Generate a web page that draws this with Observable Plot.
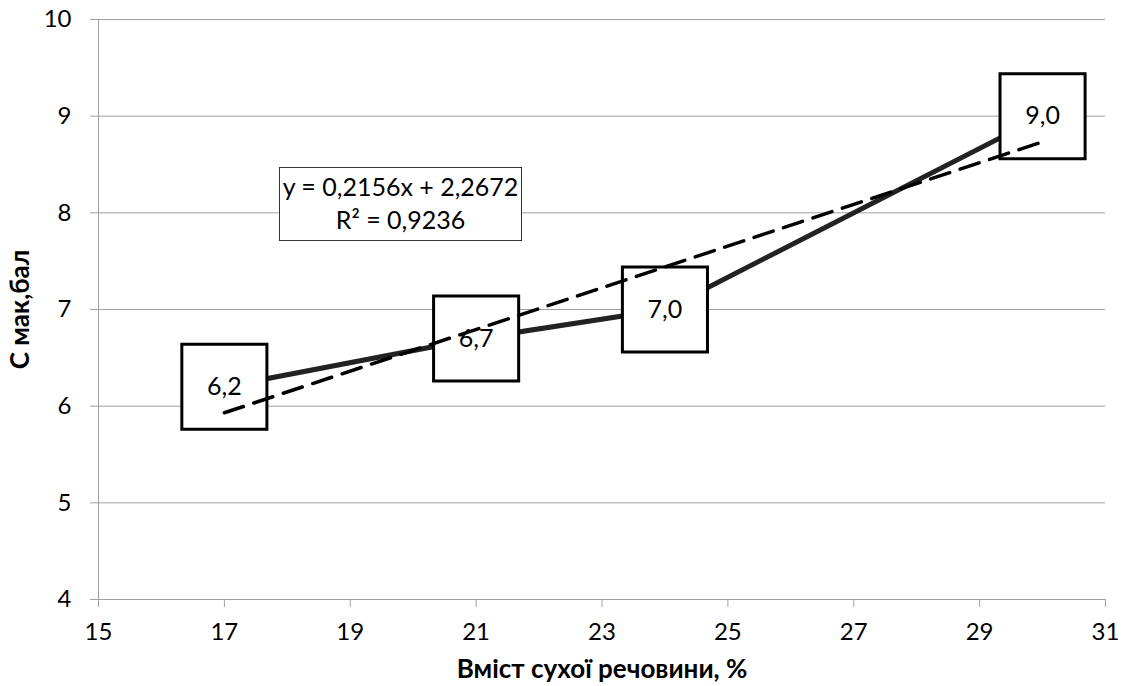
<!DOCTYPE html>
<html>
<head>
<meta charset="utf-8">
<script src="https://cdn.jsdelivr.net/npm/d3@7"></script>
<script src="https://cdn.jsdelivr.net/npm/@observablehq/plot@0.6"></script>
<style>
  body { margin: 0; background: white; }
  #wrap { position: relative; width: 1123px; height: 686px; font-family: Lato, "Open Sans", sans-serif; }
  #eq { position: absolute; left: 279px; top: 167px; width: 241px; height: 70px; border: 1px solid #333;
        background: white; font-size: 25px; text-align: center; line-height: 33px; padding-top: 2px; color: #000; }
</style>
</head>
<body>
<div id="wrap"><div id="eq">y = 0,2156x + 2,2672<br>R² = 0,9236</div></div>
<script>
const drySubstance = [17, 21, 24, 30];
const cMax = [6.2, 6.7, 7.0, 9.0];
const pointLabels = ["6,2", "6,7", "7,0", "9,0"];
const xTicks = [15, 17, 19, 21, 23, 25, 27, 29, 31];
const yTicks = [4, 5, 6, 7, 8, 9, 10];
const xTitle = "Вміст сухої речовини, %";
const yTitle = "С мак,бал";

const data = drySubstance.map((x, i) => ({x, y: cMax[i], label: pointLabels[i]}));
const gray = "#a0a0a0";

const chart = Plot.plot({
  width: 1123, height: 686,
  marginLeft: 98, marginRight: 18, marginTop: 19, marginBottom: 87,
  x: {domain: [15, 31]},
  y: {domain: [4, 10]},
  style: {fontFamily: "Lato, 'Open Sans', sans-serif", fontSize: "24px", color: "black", background: "white"},
  marks: [
    Plot.gridY(yTicks, {stroke: gray, strokeOpacity: 1, strokeWidth: 1}),
    Plot.ruleX([15], {stroke: gray, strokeWidth: 1}),
    Plot.ruleY([4], {stroke: gray, strokeWidth: 1}),
    Plot.axisY(yTicks, {tickSize: 8, tickPadding: 19, stroke: gray, label: null, fontSize: 24, tickFormat: "d"}),
    Plot.axisX(xTicks, {tickSize: 8, tickPadding: 15, stroke: gray, label: null, fontSize: 24, tickFormat: "d"}),
    Plot.line(data, {x: "x", y: "y", stroke: "#222", strokeWidth: 5}),
    Plot.dot(data, {x: "x", y: "y", symbol: "square", r: 48, fill: "white", stroke: "black", strokeWidth: 3}),
    Plot.text(data, {x: "x", y: "y", text: "label", fill: "black", fontSize: 25}),
    Plot.linearRegressionY(data, {x: "x", y: "y", stroke: "black", strokeWidth: 3.5, strokeDasharray: "20,11", ci: 0}),
    Plot.text([xTitle], {frameAnchor: "bottom", dy: 70, lineAnchor: "middle", textAnchor: "middle", fontWeight: "bold", fontSize: 26, fill: "black"}),
    Plot.text([yTitle], {frameAnchor: "left", dx: -78, rotate: -90, lineAnchor: "middle", textAnchor: "middle", fontWeight: "bold", fontSize: 26, fill: "black"})
  ]
});
document.getElementById("wrap").prepend(chart);
chart.style.position = "absolute";
chart.style.left = "0";
chart.style.top = "0";
</script>
</body>
</html>
